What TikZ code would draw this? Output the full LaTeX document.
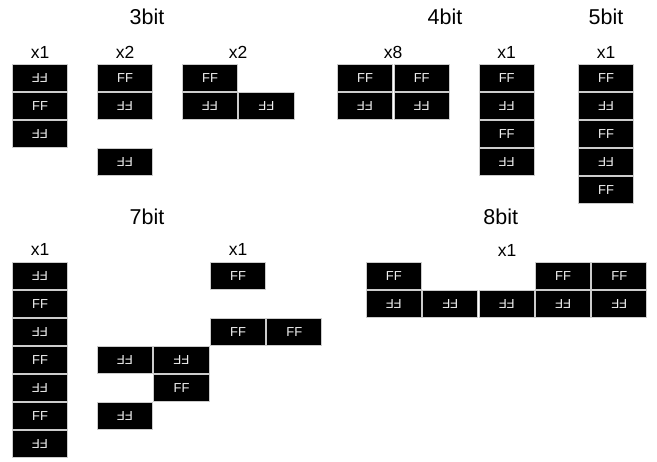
\documentclass[tikz,border=0pt]{standalone}
\usepackage{fontspec}
\setmainfont{Liberation Sans}
\begin{document}
\begin{tikzpicture}[x=1pt,y=-1pt,
  cell/.style={draw=black!20,line width=1pt,fill=black,text=black!6,
    minimum width=55.3pt,minimum height=27pt,inner sep=0pt,
    font=\fontsize{13}{13}\selectfont},
  flip/.style={cell,rotate=180},
  title/.style={anchor=base,inner sep=0pt,font=\fontsize{21.5}{22}\selectfont},
  count/.style={anchor=base,inner sep=0pt,font=\fontsize{17.5}{18}\selectfont}]
\useasboundingbox (0,0) rectangle (657,462);
% ---------- 3bit ----------
\node[title] (t3) at (147,25) {3bit};
\node[count] (c3a) at (40,58.5) {x1};
\node[count] (c3b) at (125,58.5) {x2};
\node[count] (c3c) at (238,58.5) {x2};
\node[flip] (a1) at (40,78) {FF};
\node[cell] (a2) at (40,106) {FF};
\node[flip] (a3) at (40,134) {FF};
\node[cell] (b1) at (125,78) {FF};
\node[flip] (b2) at (125,106) {FF};
\node[flip] (b3) at (125,162) {FF};
\node[cell] (d1) at (210,78) {FF};
\node[flip] (d2) at (210,106) {FF};
\node[flip] (d3) at (266.5,106) {FF};
% ---------- 4bit ----------
\node[title] (t4) at (445,25) {4bit};
\node[count] (c4a) at (393,58.5) {x8};
\node[count] (c4b) at (506.7,58.5) {x1};
\node[cell] (e1) at (365,78) {FF};
\node[cell] (e2) at (421.7,78) {FF};
\node[flip] (e3) at (365,106) {FF};
\node[flip] (e4) at (421.7,106) {FF};
\node[cell] (f1) at (506.7,78) {FF};
\node[flip] (f2) at (506.7,106) {FF};
\node[cell] (f3) at (506.7,134) {FF};
\node[flip] (f4) at (506.7,162) {FF};
% ---------- 5bit ----------
\node[title] (t5) at (606,25) {5bit};
\node[count] (c5) at (606,58.5) {x1};
\node[cell] (g1) at (606,78) {FF};
\node[flip] (g2) at (606,106) {FF};
\node[cell] (g3) at (606,134) {FF};
\node[flip] (g4) at (606,162) {FF};
\node[cell] (g5) at (606,190) {FF};
% ---------- 7bit ----------
\node[title] (t7) at (147,225) {7bit};
\node[count] (c7a) at (40,256) {x1};
\node[count] (c7b) at (238,256) {x1};
\node[flip] (h1) at (40,276) {FF};
\node[cell] (h2) at (40,304) {FF};
\node[flip] (h3) at (40,332) {FF};
\node[cell] (h4) at (40,360) {FF};
\node[flip] (h5) at (40,388) {FF};
\node[cell] (h6) at (40,416) {FF};
\node[flip] (h7) at (40,444) {FF};
\node[cell] (k1) at (238,276) {FF};
\node[cell] (k2) at (238,332) {FF};
\node[cell] (k3) at (294.3,332) {FF};
\node[flip] (k4) at (125,360) {FF};
\node[flip] (k5) at (181.5,360) {FF};
\node[cell] (k6) at (181.5,388) {FF};
\node[flip] (k7) at (125,416) {FF};
% ---------- 8bit ----------
\node[title] (t8) at (500.7,225) {8bit};
\node[count] (c8) at (507,256.5) {x1};
\node[cell] (m1) at (393.8,276) {FF};
\node[cell] (m2) at (563.1,276) {FF};
\node[cell] (m3) at (619.3,276) {FF};
\node[flip] (n1) at (393.8,304) {FF};
\node[flip] (n2) at (450.3,304) {FF};
\node[flip] (n3) at (506.8,304) {FF};
\node[flip] (n4) at (563.1,304) {FF};
\node[flip] (n5) at (619.3,304) {FF};
\end{tikzpicture}
\end{document}
